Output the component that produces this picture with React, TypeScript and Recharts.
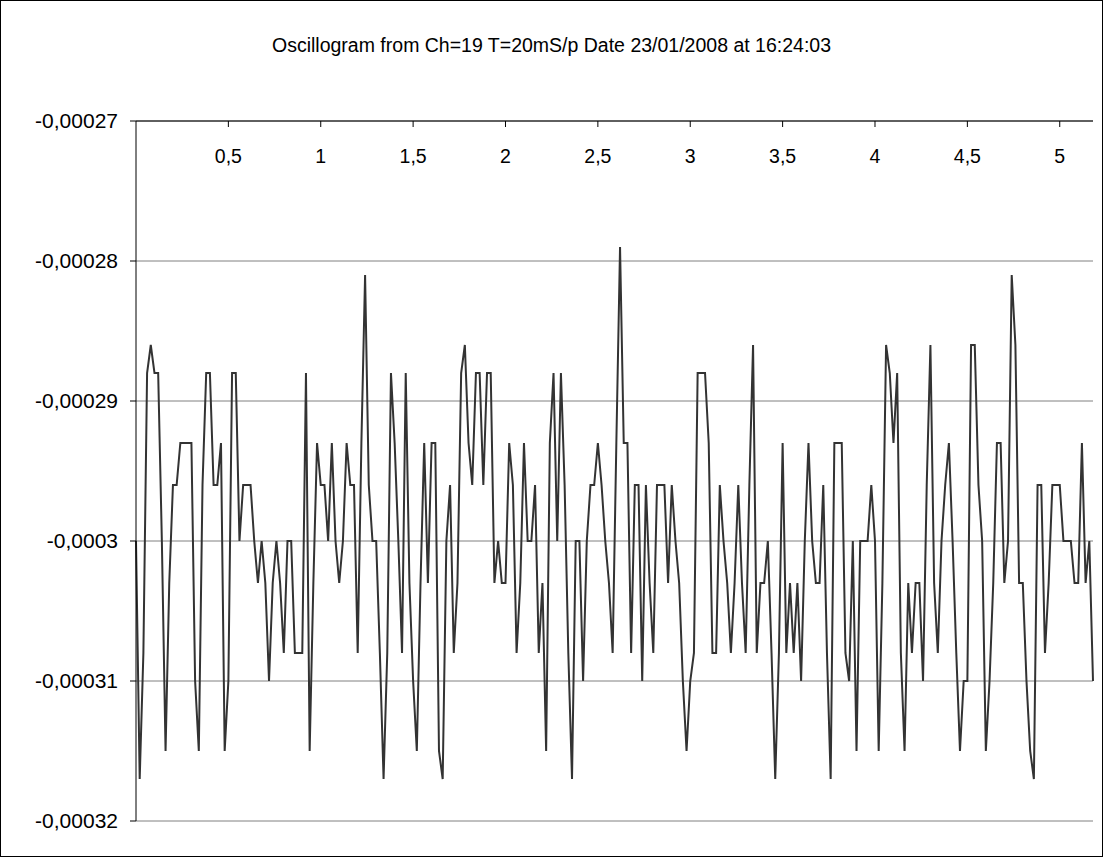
import { LineChart, Line, XAxis, YAxis, CartesianGrid } from "recharts"

// samples, 20 ms apart
const samplesA = [
  -0.0003, -0.000317, -0.000308, -0.000288, -0.000286, -0.000288, -0.000288, -0.0003, -0.000315, -0.000303,
  -0.000296, -0.000296, -0.000293, -0.000293, -0.000293, -0.000293, -0.00031, -0.000315, -0.000296, -0.000288,
  -0.000288,
]
const samplesB = [
  -0.000296, -0.000296, -0.000293, -0.000315, -0.00031, -0.000288, -0.000288, -0.0003, -0.000296, -0.000296,
  -0.000296, -0.0003, -0.000303, -0.0003, -0.000303, -0.00031, -0.000303, -0.0003, -0.000303, -0.000308,
  -0.0003, -0.0003, -0.000308, -0.000308,
]
const samplesC = [
  -0.000308, -0.000288, -0.000315, -0.000303, -0.000293, -0.000296, -0.000296, -0.0003, -0.000293, -0.0003,
  -0.000303, -0.0003, -0.000293, -0.000296, -0.000296, -0.000308, -0.000293, -0.000281, -0.000296, -0.0003,
  -0.0003, -0.000308, -0.000317, -0.000308,
]
const samplesD = [
  -0.000288, -0.000293, -0.0003, -0.000308, -0.000288, -0.000303, -0.00031, -0.000315, -0.000303, -0.000293,
  -0.000303, -0.000293, -0.000293, -0.000315, -0.000317, -0.0003, -0.000296, -0.000308, -0.000303, -0.000288,
  -0.000286, -0.000293, -0.000296, -0.000288,
]
const samplesE = [
  -0.000288, -0.000296, -0.000288, -0.000288, -0.000303, -0.0003, -0.000303, -0.000303, -0.000293, -0.000296,
  -0.000308, -0.000303, -0.000293, -0.0003, -0.0003, -0.000296, -0.000308, -0.000303, -0.000315, -0.000293,
  -0.000288, -0.0003, -0.000288, -0.000296,
]
const samplesF = [
  -0.000308, -0.000317, -0.0003, -0.0003, -0.00031, -0.0003, -0.000296, -0.000296, -0.000293, -0.000296,
  -0.0003, -0.000303, -0.000308, -0.000293, -0.000279, -0.000293, -0.000293, -0.000308, -0.000296, -0.000296,
  -0.00031, -0.000296, -0.000303, -0.000308,
]
const samplesG = [
  -0.000296, -0.000296, -0.000296, -0.000303, -0.000296, -0.0003, -0.000303, -0.00031, -0.000315, -0.00031,
  -0.000308, -0.000288, -0.000288, -0.000288, -0.000293, -0.000308, -0.000308, -0.000296, -0.0003, -0.000303,
  -0.000308, -0.000303, -0.000296,
]
const samplesH = [
  -0.000303, -0.000308, -0.000296, -0.000286, -0.000308, -0.000303, -0.000303, -0.0003, -0.000308, -0.000317,
  -0.000308, -0.000293, -0.000308, -0.000303, -0.000308, -0.000303, -0.00031, -0.0003, -0.000293, -0.0003,
  -0.000303, -0.000303, -0.000296, -0.000308,
]
const samplesI = [
  -0.000317, -0.000293, -0.000293, -0.000293, -0.000308, -0.00031, -0.0003, -0.000315, -0.0003, -0.0003,
  -0.0003, -0.000296, -0.0003, -0.000315, -0.000303, -0.000286, -0.000288, -0.000293, -0.000288, -0.000308,
  -0.000315, -0.000303, -0.000308, -0.000303,
]
const samplesJ = [
  -0.000303, -0.00031, -0.000296, -0.000286, -0.000303, -0.000308, -0.0003, -0.000296, -0.000293, -0.0003,
  -0.000308, -0.000315, -0.00031, -0.00031, -0.000286, -0.000286, -0.000296, -0.0003, -0.000315, -0.00031,
  -0.000303, -0.000293, -0.000293, -0.000303,
]
const samplesK = [
  -0.0003, -0.000281, -0.000286, -0.000303, -0.000303, -0.00031, -0.000315, -0.000317, -0.000296, -0.000296,
  -0.000308, -0.000303, -0.000296, -0.000296, -0.000296, -0.0003, -0.0003, -0.0003, -0.000303, -0.000303,
  -0.000293, -0.000303, -0.0003, -0.00031,
]

const samples = [
  ...samplesA, ...samplesB, ...samplesC, ...samplesD, ...samplesE, ...samplesF,
  ...samplesG, ...samplesH, ...samplesI, ...samplesJ, ...samplesK,
]

const SAMPLE_PERIOD = 0.02
const xTicks = [0.5, 1, 1.5, 2, 2.5, 3, 3.5, 4, 4.5, 5]
const yTicks = [-0.00032, -0.00031, -0.0003, -0.00029, -0.00028, -0.00027]
const title = "Oscillogram from Ch=19 T=20mS/p Date 23/01/2008 at 16:24:03"

const chartData = samples.map((v, i) => ({ t: Math.round(i * SAMPLE_PERIOD * 100) / 100, v }))
const lastT = chartData[chartData.length - 1].t

const comma = (n: number) => String(n).replace(".", ",")

const font = '"Liberation Sans", Arial, sans-serif'

export default function App() {
  return (
    <div style={{ position: "absolute", left: 0, top: 0, width: 1103, height: 857, background: "#fff", fontFamily: font }}>
      <div
        style={{
          position: "absolute",
          top: 34,
          left: 0,
          width: 1103,
          textAlign: "center",
          fontSize: 19.5,
          color: "#000",
        }}
      >
        {title}
      </div>
      <LineChart width={1103} height={857} data={chartData} margin={{ top: 121, right: 10, bottom: 36, left: 0 }}>
        <CartesianGrid vertical={false} stroke="#808080" />
        <XAxis
          dataKey="t"
          type="number"
          orientation="top"
          mirror
          domain={[0, lastT]}
          ticks={xTicks}
          tickFormatter={comma}
          tickSize={6}
          tickMargin={22}
          axisLine={{ stroke: "#000" }}
          tickLine={{ stroke: "#000" }}
          tick={{ fill: "#000", fontSize: 19.5, fontFamily: font }}
        />
        <YAxis
          type="number"
          domain={[-0.00032, -0.00027]}
          ticks={yTicks}
          tickFormatter={comma}
          width={136}
          tickSize={6}
          tickMargin={12}
          axisLine={{ stroke: "#000" }}
          tickLine={{ stroke: "#000" }}
          tick={{ fill: "#000", fontSize: 21, fontFamily: font }}
        />
        <Line
          type="linear"
          dataKey="v"
          stroke="#333"
          strokeWidth={2}
          dot={false}
          isAnimationActive={false}
        />
      </LineChart>
      <div
        style={{
          position: "absolute",
          left: 0,
          top: 0,
          width: 1103,
          height: 857,
          boxSizing: "border-box",
          border: "1px solid #000",
          pointerEvents: "none",
        }}
      />
    </div>
  )
}
